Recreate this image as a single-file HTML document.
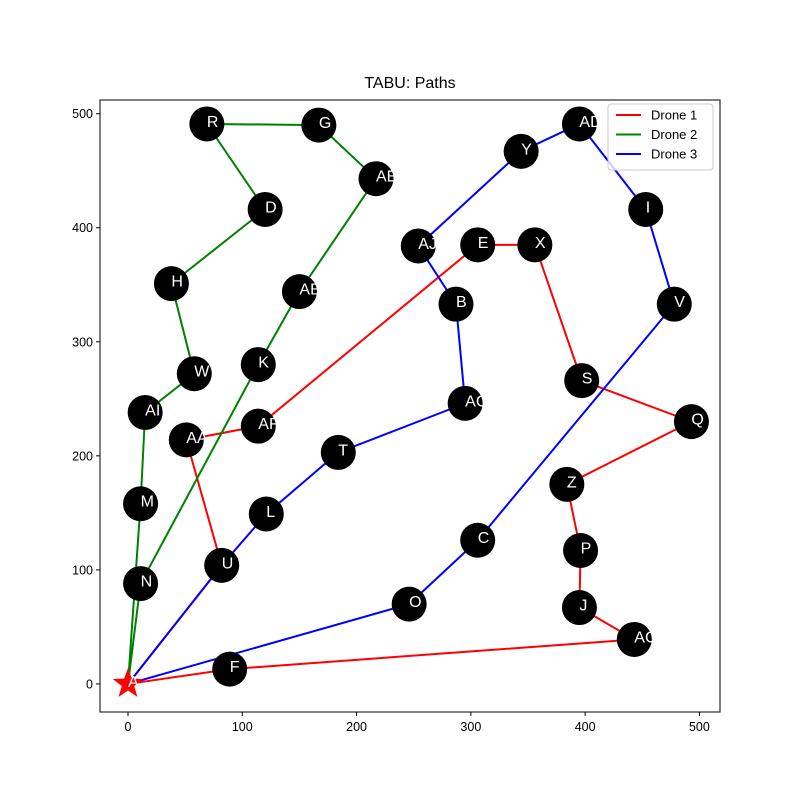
<!DOCTYPE html>
<html><head><meta charset="utf-8"><style>
html,body{margin:0;padding:0;background:#fff;}
svg{display:block;font-family:"Liberation Sans","DejaVu Sans",sans-serif;}
</style></head><body>
<svg id="chart" width="800" height="800" viewBox="0 0 800 800">
<rect x="0" y="0" width="800" height="800" fill="#fff"/>
<text x="410" y="88" font-size="16" text-anchor="middle">TABU: Paths</text>
<g id="lines"></g><g id="nodes"></g><g id="axes"></g>
</svg>
<script>
const nodeNames = ["A","R","G","AE","D","H","AB","K","W","AI","M","N","AA","AF","U","F","E","X","S","Q","Z","P","J","AC","AD","Y","I","V","AJ","B","AG","T","L","C","O"];
const nodeX = [0,69,167,217,120,38,150,114,58,15,11,11,51,114,82,89,306,356,397,493,384,396,395,443,395,344,453,478,254,287,295,184,121,306,246];
const nodeY = [0,491,490,443,416,351,344,280,272,238,158,88,214,226,104,13,385,385,266,230,175,117,67,39,491,467,416,333,384,333,246,203,149,126,70];
const droneNames = ["Drone 1","Drone 2","Drone 3"];
const droneColors = ["#ff0000","#008000","#0000ff"];
const routes = [
 ["A","U","AA","AF","E","X","S","Q","Z","P","J","AC","F","A"],
 ["A","N","K","AB","AE","G","R","D","H","W","AI","M","A"],
 ["A","U","L","T","AG","B","AJ","Y","AD","I","V","C","O","A"]
];
const xTicks = [0,100,200,300,400,500];
const yTicks = [0,100,200,300,400,500];

const L=100,R=720,T=100,B=712;
const xMin=-24.5,xMax=518,yMin=-24.6,yMax=512;
const sx=v=>L+(v-xMin)/(xMax-xMin)*(R-L);
const sy=v=>B-(v-yMin)/(yMax-yMin)*(B-T);
const NS="http://www.w3.org/2000/svg";
function mk(tag,attrs,parent){const e=document.createElementNS(NS,tag);for(const k in attrs)e.setAttribute(k,attrs[k]);parent.appendChild(e);return e;}
const idx=n=>nodeNames.indexOf(n);
const gl=document.getElementById('lines'),gn=document.getElementById('nodes'),ga=document.getElementById('axes');

routes.forEach((r,i)=>{
  const pts=r.map(n=>sx(nodeX[idx(n)])+','+sy(nodeY[idx(n)])).join(' ');
  const p=mk('polyline',{points:pts,fill:'none',stroke:droneColors[i],'stroke-width':2,'stroke-linejoin':'round'},gl);
  
  
});
nodeNames.forEach((n,i)=>{
  const cx=sx(nodeX[i]),cy=sy(nodeY[i]);
  if(n==="A"){
    let pts=[];for(let k=0;k<10;k++){const r=k%2?6.5:16;const a=-Math.PI/2+k*Math.PI/5;pts.push((cx+r*Math.cos(a))+','+(cy+r*Math.sin(a)));}
    const s=mk('polygon',{points:pts.join(' '),fill:'#ff0000'},gn);
    
    
  } else {
    const c=mk('circle',{cx:cx,cy:cy,r:17.5,fill:'#000'},gn);
    
    
  }
  const t=mk('text',{x:cx,y:cy+3,'font-size':16,fill:'#fff'},gn);
  t.textContent=n;
  
  
});
const fr=mk('rect',{x:L,y:T,width:R-L,height:B-T,fill:'none',stroke:'#000','stroke-width':1},ga);


xTicks.forEach(v=>{
  const x=sx(v);
  mk('line',{x1:x,y1:B,x2:x,y2:B+4,stroke:'#000'},ga);
  const t=mk('text',{x:x,y:B+19,'font-size':12.5,'text-anchor':'middle'},ga);t.textContent=v;
  
  
});
yTicks.forEach(v=>{
  const y=sy(v);
  mk('line',{x1:L-4,y1:y,x2:L,y2:y,stroke:'#000'},ga);
  const t=mk('text',{x:L-7,y:y+4.5,'font-size':12.5,'text-anchor':'end'},ga);t.textContent=v;
  
  
});
const lg=mk('g',{},ga);


mk('rect',{x:608,y:104,width:105,height:66,rx:3,fill:'#fff','fill-opacity':0.8,stroke:'#ccc'},lg);
droneNames.forEach((n,i)=>{
  const y=115+i*19.5;
  mk('line',{x1:616,y1:y,x2:641,y2:y,stroke:droneColors[i],'stroke-width':2},lg);
  const t=mk('text',{x:651,y:y+4.5,'font-size':13},lg);t.textContent=n;
  
  
});
</script>
</body></html>
